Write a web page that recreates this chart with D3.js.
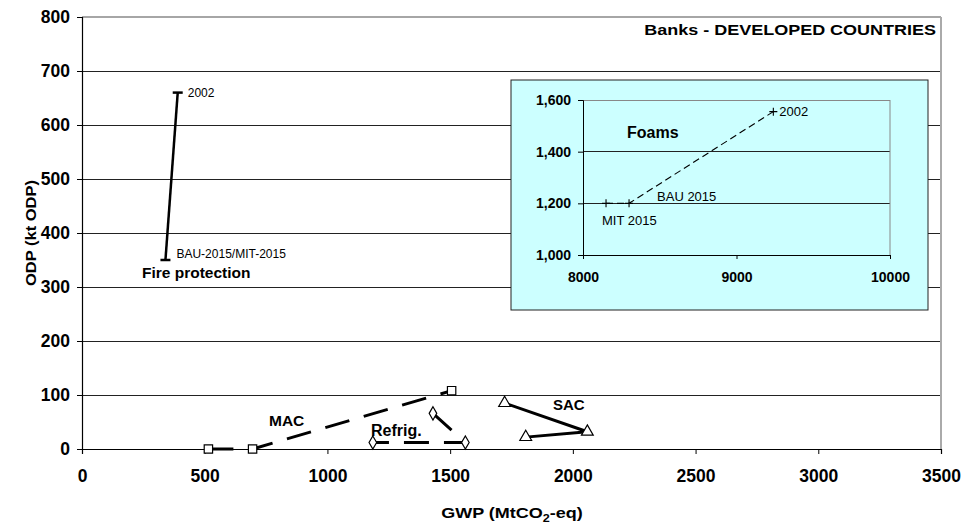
<!DOCTYPE html>
<html><head><meta charset="utf-8">
<script src="https://cdn.jsdelivr.net/npm/d3@7"></script>
<style>
html,body{margin:0;padding:0;background:#fff;}
svg{display:block;font-family:"Liberation Sans",Arial,sans-serif;}
</style></head>
<body>
<svg id="chart" width="968" height="529"></svg>
<script>
// ---- data ----
const xTicks = [0, 500, 1000, 1500, 2000, 2500, 3000, 3500];
const yTicks = [0, 100, 200, 300, 400, 500, 600, 700, 800];
const fireGWP = [390, 340];
const fireODP = [660, 350];
const fireLabels = ["2002", "BAU-2015/MIT-2015"];
const macGWP = [515, 695, 1506];
const macODP = [0, 0, 108];
const refGWP = [1430, 1562, 1185];
const refODP = [66, 12, 12];
const sacGWP = [1722, 2059, 1808];
const sacODP = [85, 32, 22];
const foamGWP = [8150, 8300, 9240];
const foamODP = [1200, 1200, 1555];
const foamLabels = ["MIT 2015", "BAU 2015", "2002"];
const insetXTicks = [8000, 9000, 10000];
const insetYTicks = [1000, 1200, 1400, 1600];
const title = "Banks - DEVELOPED COUNTRIES";

const svg = d3.select("#chart");
const x = d3.scaleLinear().domain([0, 3500]).range([82, 941]);
const y = d3.scaleLinear().domain([0, 800]).range([449, 17]);

// gridlines
svg.append("g").selectAll("line").data(yTicks.filter(d => d > 0 && d < 800)).join("line")
  .attr("x1", x(0)).attr("x2", x(3500)).attr("y1", d => y(d)).attr("y2", d => y(d))
  .attr("stroke", "#222").attr("stroke-width", 1).attr("shape-rendering", "crispEdges");
// plot border top/right
svg.append("line").attr("x1", x(0)).attr("x2", x(3500)).attr("y1", y(800)).attr("y2", y(800))
  .attr("stroke", "#888").attr("stroke-width", 1.5);
svg.append("line").attr("x1", x(3500)).attr("x2", x(3500)).attr("y1", y(800)).attr("y2", y(0))
  .attr("stroke", "#aaa").attr("stroke-width", 2);

// axes
const xAxis = svg.append("g").attr("transform", `translate(0,${y(0)})`)
  .call(d3.axisBottom(x).tickValues(xTicks).tickSize(5).tickPadding(16).tickFormat(d3.format("d")));
const yAxis = svg.append("g").attr("transform", `translate(${x(0)},0)`)
  .call(d3.axisLeft(y).tickValues(yTicks).tickSize(5).tickPadding(7).tickFormat(d3.format("d")));
[xAxis, yAxis].forEach(g => {
  g.select(".domain").attr("stroke", "#000").attr("stroke-width", 1.2);
  g.selectAll(".tick line").attr("stroke", "#000");
  g.selectAll("text").attr("font-family", "Liberation Sans, Arial, sans-serif")
    .attr("font-size", 17.5).attr("font-weight", "bold").attr("fill", "#000");
});

// axis titles
svg.append("text").attr("transform", "translate(512,518) scale(1.2,1)").attr("text-anchor", "middle")
  .attr("font-size", 15).attr("font-weight", "bold")
  .call(t => { t.append("tspan").text("GWP (MtCO");
    t.append("tspan").text("2").attr("font-size", 10.5).attr("dy", 4);
    t.append("tspan").text("-eq)").attr("dy", -4); });
svg.append("text").attr("transform", "translate(36,233) rotate(-90) scale(1.1,1)").attr("text-anchor", "middle")
  .attr("font-size", 15).attr("font-weight", "bold").text("ODP (kt ODP)");

// title
svg.append("text").attr("transform", "translate(936,35) scale(1.2,1)").attr("text-anchor", "end")
  .attr("font-size", 15).attr("font-weight", "bold").text(title);

const pts = (xs, ys) => xs.map((v, i) => [v, ys[i]]);
const line = d3.line().x(d => x(d[0])).y(d => y(d[1]));

// fire protection
svg.append("path").attr("d", line(pts(fireGWP, fireODP))).attr("fill", "none")
  .attr("stroke", "#000").attr("stroke-width", 2.5);
svg.append("g").selectAll("line").data(pts(fireGWP, fireODP)).join("line")
  .attr("x1", d => x(d[0]) - 5).attr("x2", d => x(d[0]) + 5)
  .attr("y1", d => y(d[1])).attr("y2", d => y(d[1])).attr("stroke", "#000").attr("stroke-width", 2.5);
svg.append("text").attr("x", x(fireGWP[0]) + 10).attr("y", y(fireODP[0]) + 4)
  .attr("font-size", 12).text(fireLabels[0]);
svg.append("text").attr("x", x(fireGWP[1]) + 11).attr("y", y(fireODP[1]) - 2)
  .attr("font-size", 12).text(fireLabels[1]);
svg.append("text").attr("x", 142).attr("y", 278).attr("font-size", 15.5).attr("font-weight", "bold")
  .text("Fire protection");

// MAC
svg.append("path").attr("d", line(pts(macGWP, macODP))).attr("fill", "none")
  .attr("stroke", "#000").attr("stroke-width", 3).attr("stroke-dasharray", "25,15");
// Refrig
svg.append("path").attr("d", line(pts(refGWP, refODP))).attr("fill", "none")
  .attr("stroke", "#000").attr("stroke-width", 3).attr("stroke-dasharray", "25,15");
// SAC
svg.append("path").attr("d", line(pts(sacGWP, sacODP))).attr("fill", "none")
  .attr("stroke", "#000").attr("stroke-width", 3);

function markers(xs, ys, type, size) {
  svg.append("g").selectAll("path").data(pts(xs, ys)).join("path")
    .attr("transform", d => `translate(${x(d[0])},${y(d[1])})`)
    .attr("d", d3.symbol().type(type).size(size))
    .attr("fill", "#fff").attr("stroke", "#000").attr("stroke-width", 1.2);
}
markers(macGWP, macODP, d3.symbolSquare, 70);
markers(refGWP, refODP, d3.symbolDiamond, 50);
markers(sacGWP, sacODP, d3.symbolTriangle, 60);

svg.append("text").attr("x", 269).attr("y", 426).attr("font-size", 15.5).attr("font-weight", "bold").text("MAC");
svg.append("text").attr("x", 371).attr("y", 436).attr("font-size", 16).attr("font-weight", "bold").text("Refrig.");
svg.append("text").attr("x", 553).attr("y", 410).attr("font-size", 15).attr("font-weight", "bold").text("SAC");

// ---- inset ----
svg.append("rect").attr("x", 511).attr("y", 80).attr("width", 417).attr("height", 230)
  .attr("fill", "#ccffff").attr("stroke", "#222").attr("stroke-width", 1);
const ix = d3.scaleLinear().domain([8000, 10000]).range([583, 890]);
const iy = d3.scaleLinear().domain([1000, 1600]).range([255, 100]);
svg.append("g").selectAll("line").data(insetYTicks.filter(d => d > 1000)).join("line")
  .attr("x1", ix(8000)).attr("x2", ix(10000)).attr("y1", d => iy(d)).attr("y2", d => iy(d))
  .attr("stroke", d => d === 1600 ? "#888" : "#222").attr("stroke-width", 1).attr("shape-rendering", "crispEdges");
svg.append("line").attr("x1", ix(10000)).attr("x2", ix(10000)).attr("y1", iy(1600)).attr("y2", iy(1000))
  .attr("stroke", "#888").attr("stroke-width", 1);
const ixAxis = svg.append("g").attr("transform", `translate(0,${iy(1000)})`)
  .call(d3.axisBottom(ix).tickValues(insetXTicks).tickSize(4).tickPadding(13).tickFormat(d3.format("d")));
const iyAxis = svg.append("g").attr("transform", `translate(${ix(8000)},0)`)
  .call(d3.axisLeft(iy).tickValues(insetYTicks).tickSize(5).tickPadding(7).tickFormat(d3.format(",")));
[ixAxis, iyAxis].forEach(g => {
  g.select(".domain").attr("stroke", "#000");
  g.selectAll(".tick line").attr("stroke", "#000");
  g.selectAll("text").attr("font-family", "Liberation Sans, Arial, sans-serif")
    .attr("font-size", 14).attr("font-weight", "bold").attr("fill", "#000");
});
const iline = d3.line().x(d => ix(d[0])).y(d => iy(d[1]));
svg.append("path").attr("d", iline(pts(foamGWP, foamODP))).attr("fill", "none")
  .attr("stroke", "#000").attr("stroke-width", 1.1).attr("stroke-dasharray", "7,4");
svg.append("g").selectAll("path").data(pts(foamGWP, foamODP)).join("path")
  .attr("transform", d => `translate(${ix(d[0])},${iy(d[1])})`)
  .attr("d", "M-4,0H4M0,-4V4").attr("stroke", "#000").attr("stroke-width", 1.1);
svg.append("text").attr("x", ix(foamGWP[0]) - 4).attr("y", iy(foamODP[0]) + 22).attr("font-size", 13).text(foamLabels[0]);
svg.append("text").attr("x", ix(foamGWP[1]) + 28).attr("y", iy(foamODP[1]) - 2).attr("font-size", 13).text(foamLabels[1]);
svg.append("text").attr("x", ix(foamGWP[2]) + 6).attr("y", iy(foamODP[2]) + 4).attr("font-size", 13).text(foamLabels[2]);
svg.append("text").attr("x", 627).attr("y", 138).attr("font-size", 16).attr("font-weight", "bold").text("Foams");
</script>
</body></html>
